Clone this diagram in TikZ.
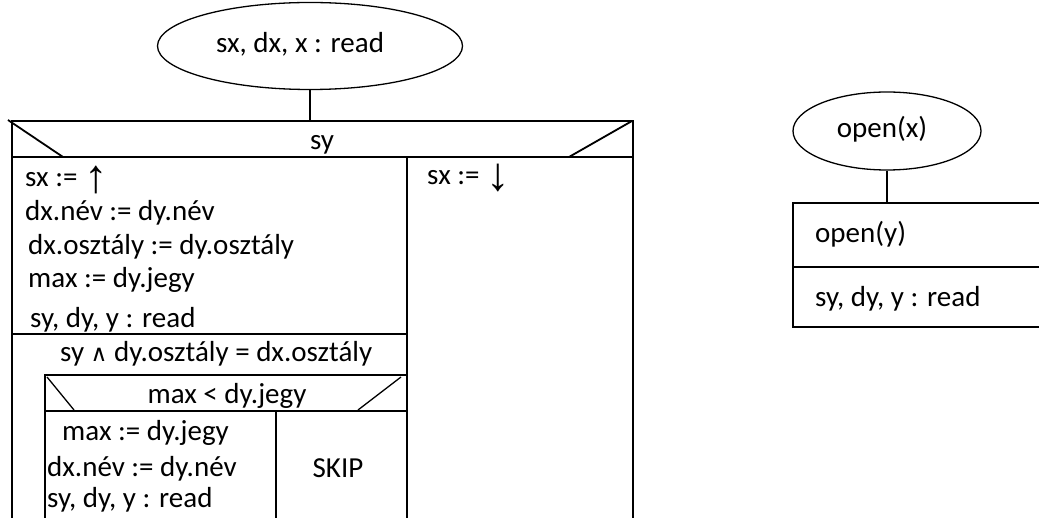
\documentclass[tikz,border=0pt]{standalone}
\usepackage{fontspec}
\setmainfont{Carlito}
\newfontfamily\symfont{DejaVu Sans}
\newfontfamily\arrowfont{Liberation Sans}
\usetikzlibrary{shapes.geometric}
\newcommand{\arrowup}{\smash{\raisebox{-6pt}{\arrowfont\fontsize{47}{47}\selectfont ↑}}}
\newcommand{\arrowdown}{\smash{\raisebox{-6pt}{\arrowfont\fontsize{47}{47}\selectfont ↓}}}
\newcommand{\logand}{{\symfont\fontsize{23}{26}\selectfont ∧}}

\begin{document}
\begin{tikzpicture}[x=1pt,y=-1pt,
  txt/.style={anchor=west,inner sep=0pt,text height=20pt,text depth=7pt,
    font=\fontsize{29}{34}\selectfont},
  ctxt/.style={txt,anchor=center},
  oval/.style={ellipse,draw,line width=1.3pt,inner sep=0pt},
  frame/.style={line width=2.2pt},
  rule/.style={line width=1.8pt},
  thinrule/.style={line width=1.3pt},
  link/.style={line width=1.3pt}]
\useasboundingbox (0,0) rectangle (1039,518);
\clip (0,0) rectangle (1039,518);

% ---------- main structogram ----------
\node[oval,minimum width=305pt,minimum height=87pt] (start) at (310,46) {};
\node[ctxt] (starttxt) at (300,46) {sx, dx, x : read};

\coordinate (tl) at (12,121);
\coordinate (tr) at (633,121);
\coordinate (hl) at (12,157);
\coordinate (hr) at (633,157);
\coordinate (bl) at (12,530);
\coordinate (br) at (633,530);
\coordinate (colt) at (407,157);
\coordinate (colb) at (407,530);
\coordinate (sepl) at (12,334);
\coordinate (sepr) at (407,334);

\draw[link] (start.south) -- (start.south |- tl);
\draw[frame] (bl) -- (tl) -- (tr) -- (br);
\draw[frame] (hl) -- (hr);
\draw[rule] (colt) -- (colb);
\draw[rule] (sepl) -- (sepr);
% branch marks of the selection header
\draw[rule] (8,120) -- (63,157);
\draw[rule] (632,121) -- (569,157);

\node[ctxt] (cond) at (322,143) {sy};

\node[txt] (a1) at (25,180) {sx := \arrowup};
\node[txt] (a2) at (25,214) {dx.név := dy.név};
\node[txt] (a3) at (28,248) {dx.osztály := dy.osztály};
\node[txt] (a4) at (28,281) {max := dy.jegy};
\node[txt] (a5) at (30,321) {sy, dy, y : read};

\node[txt] (b1) at (427,178) {sx := \arrowdown};

% loop with nested selection
\node[txt] (loop) at (60,355) {sy \logand\ dy.osztály = dx.osztály};

\coordinate (il) at (45,375);
\coordinate (ir) at (407,375);
\coordinate (ihl) at (45,411);
\coordinate (ihr) at (407,411);
\coordinate (ib) at (45,530);
\coordinate (idt) at (276,411);
\coordinate (idb) at (276,530);

\draw[rule] (ib) -- (il) -- (ir);
\draw[rule] (ihl) -- (ihr);
\draw[thinrule] (idt) -- (idb);
\draw[thinrule] (47,377) -- (74,410);
\draw[thinrule] (401,377) -- (358,410);

\node[ctxt] (cond2) at (227,397) {max < dy.jegy};
\node[txt] (c1) at (62,434) {max := dy.jegy};
\node[txt] (c2) at (47,470) {dx.név := dy.név};
\node[txt] (c3) at (47,501) {sy, dy, y : read};
\node[ctxt] (skip) at (338,471) {SKIP};

% ---------- opening sequence ----------
\node[oval,minimum width=188pt,minimum height=78pt] (open) at (887,131) {};
\node[ctxt] (opentxt) at (882,131) {open(x)};

\coordinate (ot) at (793,203);
\coordinate (om) at (793,267);
\coordinate (ob) at (793,327);
\draw[link] (open.south) -- (open.south |- ot);
\draw[rule] (1050,203) -- (ot) -- (ob) -- (1050,327);
\draw[thinrule] (om) -- (1050,267);

\node[txt] (o1) at (815,236) {open(y)};
\node[txt] (o2) at (815,300) {sy, dy, y : read};
\end{tikzpicture}
\end{document}
